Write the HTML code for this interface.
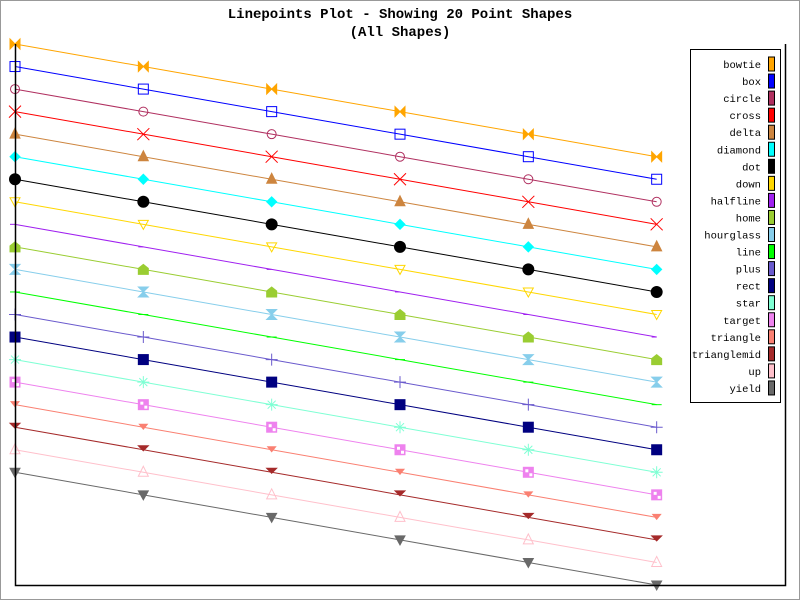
<!DOCTYPE html>
<html><head><meta charset="utf-8"><style>
body{margin:0;background:#fff}
svg{display:block}
text{font-family:"Liberation Mono","DejaVu Sans Mono",monospace}
</style></head><body>
<svg id="chart" width="800" height="600">
<rect x="0.5" y="0.5" width="799" height="599" fill="#fff" stroke="#999"/>
<text x="400" y="18" text-anchor="middle" font-size="14" font-weight="bold">Linepoints Plot - Showing 20 Point Shapes</text>
<text x="400" y="36" text-anchor="middle" font-size="14" font-weight="bold">(All Shapes)</text>
<g id="plot"></g>
<path d="M15.5 44V585.5H785.5V44" fill="none" stroke="#000" stroke-width="1.5"/>
<rect x="690.5" y="49.5" width="90" height="353" fill="#fff" stroke="#000"/>
<g id="legend"></g>
</svg>
<script>
const seriesNames=["bowtie","box","circle","cross","delta","diamond","dot","down","halfline","home","hourglass","line","plus","rect","star","target","triangle","trianglemid","up","yield"];
const seriesColors=["#FFA500","#0000FF","#B03060","#FF0000","#CD853F","#00FFFF","#000000","#FFD700","#A020F0","#9ACD32","#87CEEB","#00FF00","#6A5ACD","#000080","#7FFFD4","#EE82EE","#FA8072","#A52A2A","#FFC0CB","#696969"];
const xValues=[0,1,2,3,4,5];
const s0=[24,23,22,21,20,19];
const s1=[23,22,21,20,19,18];
const s2=[22,21,20,19,18,17];
const s3=[21,20,19,18,17,16];
const s4=[20,19,18,17,16,15];
const s5=[19,18,17,16,15,14];
const s6=[18,17,16,15,14,13];
const s7=[17,16,15,14,13,12];
const s8=[16,15,14,13,12,11];
const s9=[15,14,13,12,11,10];
const s10=[14,13,12,11,10,9];
const s11=[13,12,11,10,9,8];
const s12=[12,11,10,9,8,7];
const s13=[11,10,9,8,7,6];
const s14=[10,9,8,7,6,5];
const s15=[9,8,7,6,5,4];
const s16=[8,7,6,5,4,3];
const s17=[7,6,5,4,3,2];
const s18=[6,5,4,3,2,1];
const s19=[5,4,3,2,1,0];
const seriesValues=[s0,s1,s2,s3,s4,s5,s6,s7,s8,s9,s10,s11,s12,s13,s14,s15,s16,s17,s18,s19];
const NS="http://www.w3.org/2000/svg";
const xScale=v=>15+v*(770/6);
const yScale=v=>585-v*(541/24);
const plot=document.getElementById('plot');
function mk(tag,attrs,parent){const e=document.createElementNS(NS,tag);for(const k in attrs)e.setAttribute(k,attrs[k]);parent.appendChild(e);return e;}
function marker(g,name,x,y,c){
  const f={fill:c,stroke:c,'stroke-width':1},o={fill:'none',stroke:c,'stroke-width':1};
  switch(name){
    case 'bowtie':mk('path',Object.assign({d:`M${x-5} ${y-5}L${x} ${y}L${x-5} ${y+5}ZM${x+5} ${y-5}L${x} ${y}L${x+5} ${y+5}Z`},f),g);break;
    case 'box':mk('rect',Object.assign({x:x-5,y:y-5,width:10,height:10},o),g);break;
    case 'circle':mk('circle',Object.assign({cx:x,cy:y,r:4.5},o),g);break;
    case 'cross':mk('path',Object.assign({d:`M${x-6} ${y-6}L${x+6} ${y+6}M${x+6} ${y-6}L${x-6} ${y+6}`},o),g);break;
    case 'delta':mk('path',Object.assign({d:`M${x} ${y-6}L${x+5} ${y+4}L${x-5} ${y+4}Z`},f),g);break;
    case 'diamond':mk('path',Object.assign({d:`M${x} ${y-5}L${x+5} ${y}L${x} ${y+5}L${x-5} ${y}Z`},f),g);break;
    case 'dot':mk('circle',Object.assign({cx:x,cy:y,r:5.5},f),g);break;
    case 'down':mk('path',Object.assign({d:`M${x-5} ${y-4}L${x+5} ${y-4}L${x} ${y+5}Z`},o),g);break;
    case 'halfline':mk('path',Object.assign({d:`M${x-5} ${y}L${x} ${y}`},o),g);break;
    case 'home':mk('path',Object.assign({d:`M${x} ${y-5}L${x+5} ${y-1}L${x+5} ${y+5}L${x-5} ${y+5}L${x-5} ${y-1}Z`},f),g);break;
    case 'hourglass':mk('path',Object.assign({d:`M${x-5} ${y-5}L${x+5} ${y-5}L${x} ${y}ZM${x-5} ${y+5}L${x+5} ${y+5}L${x} ${y}Z`},f),g);break;
    case 'line':mk('path',Object.assign({d:`M${x-5} ${y}L${x+5} ${y}`},o),g);break;
    case 'plus':mk('path',Object.assign({d:`M${x-6} ${y}L${x+6} ${y}M${x} ${y-6}L${x} ${y+6}`},o),g);break;
    case 'rect':mk('rect',Object.assign({x:x-5,y:y-5,width:10,height:10},f),g);break;
    case 'star':mk('path',Object.assign({d:`M${x-6} ${y}L${x+6} ${y}M${x} ${y-6}L${x} ${y+6}M${x-4} ${y-4}L${x+4} ${y+4}M${x+4} ${y-4}L${x-4} ${y+4}`},o),g);break;
    case 'target':mk('rect',Object.assign({x:x-5,y:y-5,width:10,height:10},f),g);mk('rect',{x:x-3,y:y-3,width:3,height:3,fill:'#fff'},g);mk('rect',{x:x+1,y:y+1,width:3,height:3,fill:'#fff'},g);break;
    case 'triangle':mk('path',Object.assign({d:`M${x-4} ${y-3}L${x+4} ${y-3}L${x} ${y+2}Z`},f),g);break;
    case 'trianglemid':mk('path',Object.assign({d:`M${x-5} ${y-4}L${x+5} ${y-4}L${x} ${y+1}Z`},f),g);break;
    case 'up':mk('path',Object.assign({d:`M${x} ${y-6}L${x+5} ${y+4}L${x-5} ${y+4}Z`},o),g);break;
    case 'yield':mk('path',Object.assign({d:`M${x-5} ${y-4}L${x+5} ${y-4}L${x} ${y+5}Z`},f),g);break;
  }
}
seriesNames.forEach((name,i)=>{
  const g=mk('g',{},plot);
  
  
  const vals=seriesValues[i];
  const pl=mk('polyline',{points:xValues.map((xv,j)=>xScale(xv)+','+yScale(vals[j])).join(' '),fill:'none',stroke:seriesColors[i],'stroke-width':1},g);
  
  
  xValues.forEach((xv,j)=>{
    const mg=mk('g',{},g);
    
    
    marker(mg,name,xScale(xv),yScale(vals[j]),seriesColors[i]);
  });
});
const legend=document.getElementById('legend');
seriesNames.forEach((name,i)=>{
  const y=64+i*17.05;
  const g=mk('g',{},legend);
  
  
  const t=mk('text',{x:761,y:y+4,'text-anchor':'end','font-size':10.5},g);
  t.textContent=name;
  const r=mk('rect',{x:768.5,y:y-7,width:6,height:14,fill:seriesColors[i],stroke:'#000','stroke-width':1},g);
  
  
});
</script>
</body></html>
